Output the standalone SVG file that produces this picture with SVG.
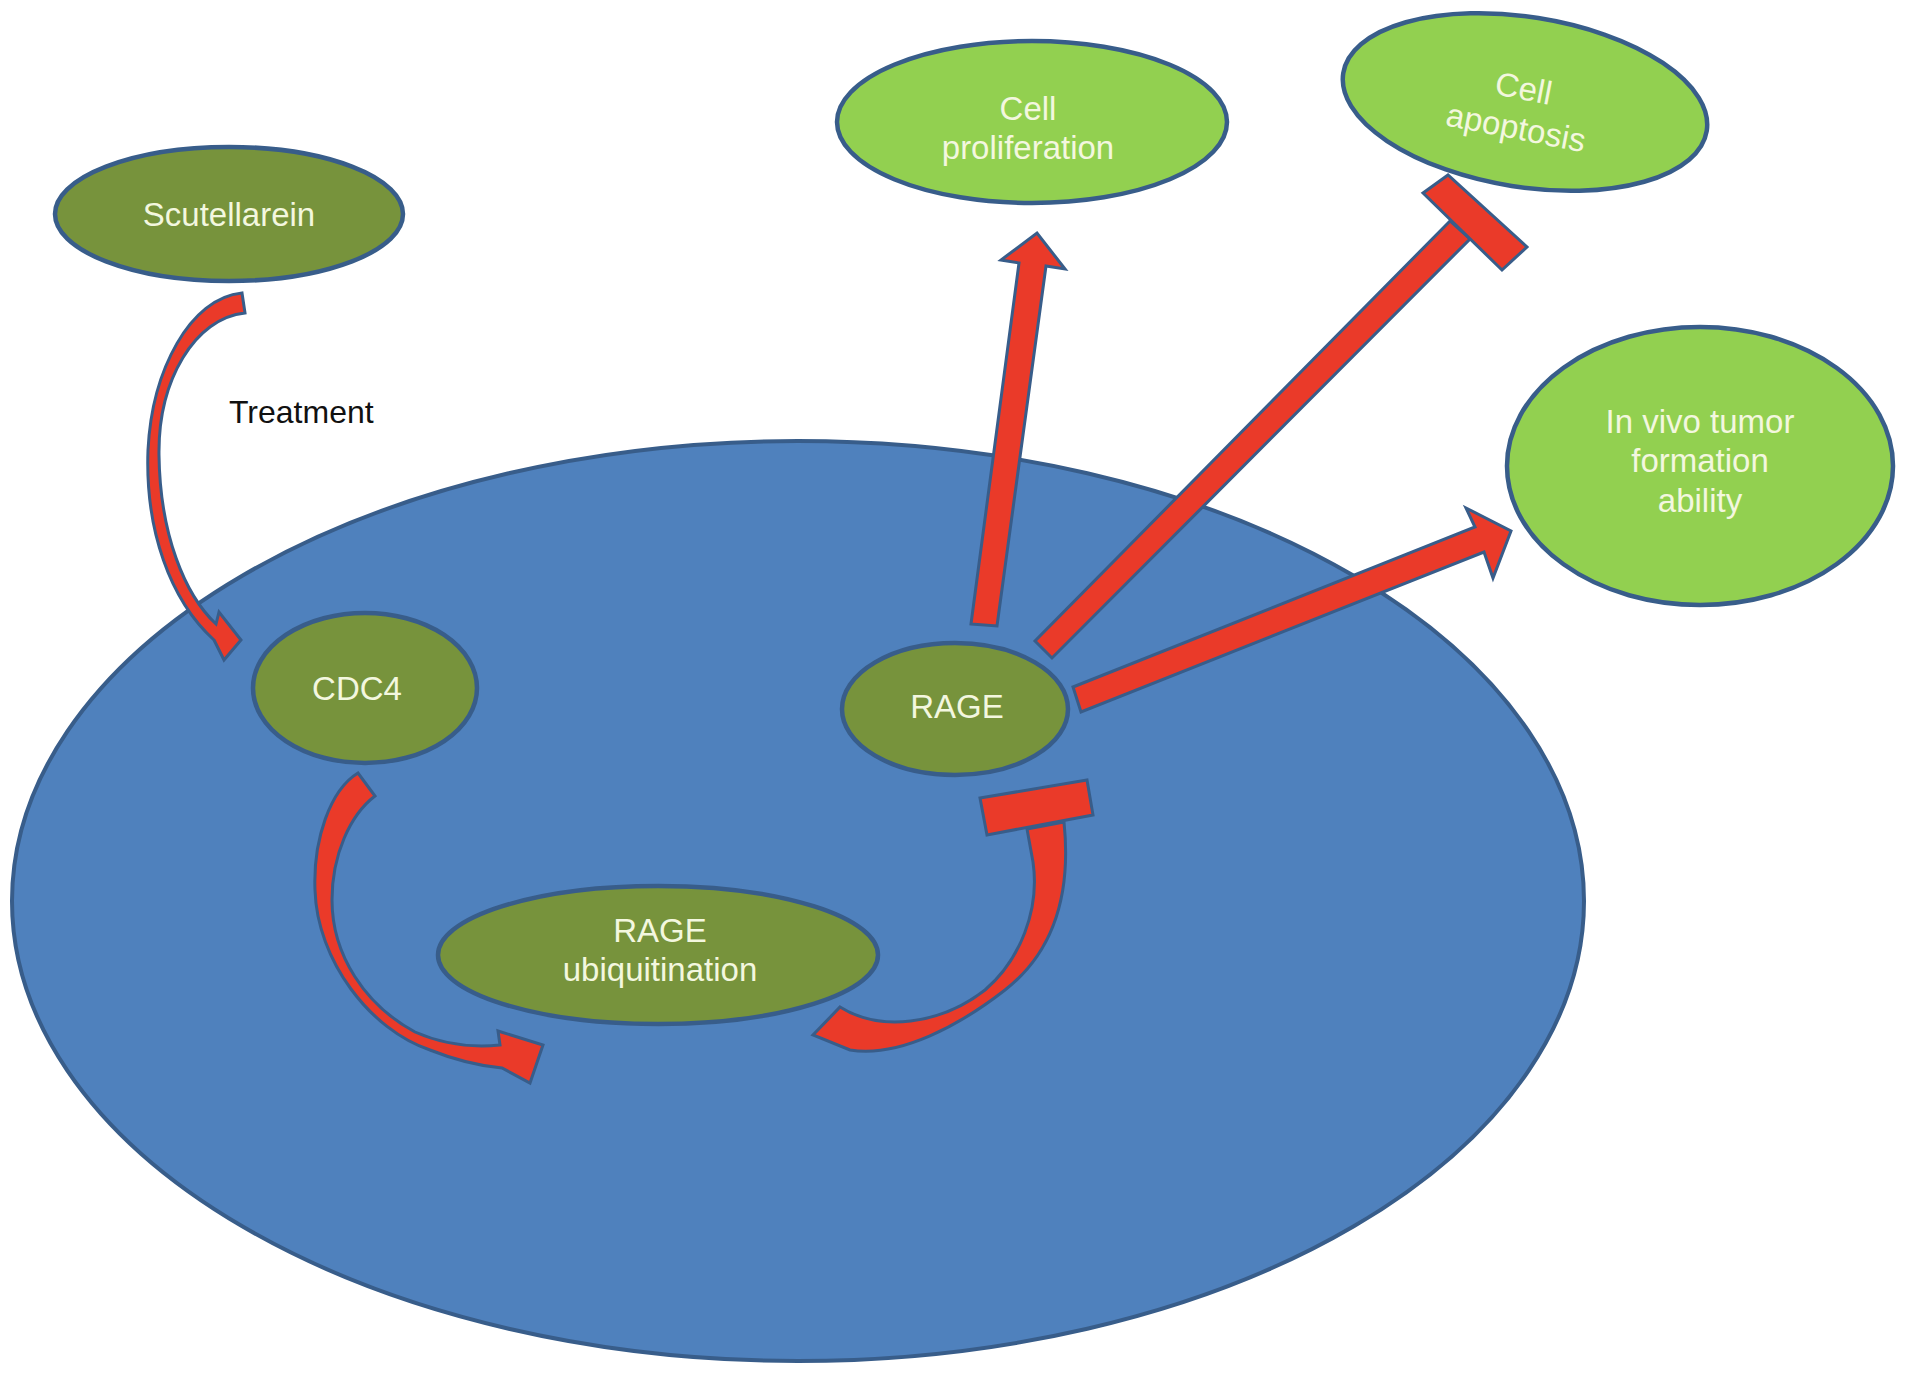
<svg xmlns="http://www.w3.org/2000/svg" width="1913" height="1377" viewBox="0 0 1913 1377">
<style>
  .cell { fill: #4F81BD; stroke: #385D8A; stroke-width: 4; }
  .dark { fill: #77933C; stroke: #385D8A; stroke-width: 4.5; }
  .light { fill: #92D050; stroke: #385D8A; stroke-width: 4.5; }
  .red { fill: #EA3A29; stroke: #385D8A; stroke-width: 3; stroke-linejoin: miter; }
  .lbl { font-family: "Liberation Sans", Arial, Helvetica, sans-serif; font-size: 33px; fill: #F3F7DF; text-anchor: middle; }
  .blk { font-family: "Liberation Sans", Arial, Helvetica, sans-serif; font-size: 32px; fill: #111111; }
</style>
<rect x="0" y="0" width="1913" height="1377" fill="#FFFFFF"/>

<g id="cell">
  <ellipse class="cell" cx="798" cy="901" rx="786" ry="460"/>
</g>

<g id="connectors">
  <!-- Scutellarein -> CDC4 (curved arrow) -->
  <path id="arrow-treatment" class="red" d="M 242 293 C 190 298 152 370 148 450 C 145 530 170 600 214 640 L 224 660 L 241 640 L 219 612 L 216 624 C 185 595 160 535 159 455 C 158 380 195 318 245 313 Z"/>
  <!-- CDC4 -> RAGE ubiquitination (curved arrow) -->
  <path id="arrow-cdc4-ubiq" class="red" d="M 358 773 C 330 790 313 840 315 890 C 317 960 370 1030 430 1050 C 455 1060 480 1066 502 1068 L 530 1083 L 543 1045 L 498 1031 L 500 1045 C 470 1048 440 1043 415 1032 C 365 1005 332 955 332 900 C 332 855 350 815 375 796 Z"/>
  <!-- RAGE ubiquitination -| RAGE (curved inhibition) -->
  <path id="inhib-ubiq-rage-stem" class="red" d="M 840 1007 C 880 1032 940 1025 985 990 C 1020 960 1040 910 1033 862 L 1027 829 L 1064 822 C 1072 900 1050 955 1005 990 C 960 1025 900 1058 850 1050 L 813 1035 Z"/>
  <polygon id="inhib-ubiq-rage-bar" class="red" points="980,798 1087,780 1093,815 987,835"/>
  <!-- RAGE -> Cell proliferation -->
  <polygon id="arrow-rage-prolif" class="red" points="971,624 997,626 1046,266 1065,269 1037,233 1001,260 1019,263"/>
  <!-- RAGE -| Cell apoptosis -->
  <polygon id="inhib-rage-apop-stem" class="red" points="1035,641 1052,658 1470,239 1450,221"/>
  <polygon id="inhib-rage-apop-bar" class="red" points="1423,193 1448,175 1527,247 1502,270"/>
  <!-- RAGE -> In vivo tumor formation ability -->
  <polygon id="arrow-rage-tumor" class="red" points="1073,687 1475,527 1466,508 1511,531 1493,578 1484,552 1081,712"/>
</g>

<g id="node-scutellarein">
  <ellipse class="dark" cx="229" cy="214" rx="174" ry="67"/>
  <text class="lbl" x="229" y="226">Scutellarein</text>
</g>

<g id="label-treatment">
  <text class="blk" x="229" y="423">Treatment</text>
</g>

<g id="node-cdc4">
  <ellipse class="dark" cx="365" cy="688" rx="112" ry="75"/>
  <text class="lbl" x="357" y="700">CDC4</text>
</g>

<g id="node-rage">
  <ellipse class="dark" cx="955" cy="709" rx="113" ry="66"/>
  <text class="lbl" x="957" y="718">RAGE</text>
</g>

<g id="node-rage-ubiquitination">
  <ellipse class="dark" cx="658" cy="955" rx="220" ry="69"/>
  <text class="lbl" x="660" y="942">RAGE</text>
  <text class="lbl" x="660" y="981">ubiquitination</text>
</g>

<g id="node-cell-proliferation">
  <ellipse class="light" cx="1032" cy="122" rx="195" ry="81"/>
  <text class="lbl" x="1028" y="120">Cell</text>
  <text class="lbl" x="1028" y="159">proliferation</text>
</g>

<g id="node-cell-apoptosis">
  <ellipse class="light" cx="0" cy="0" rx="184" ry="85" transform="translate(1525,102) rotate(9)"/>
  <g transform="translate(1524,102) rotate(11)">
    <text class="lbl" x="-3" y="-2">Cell</text>
    <text class="lbl" x="-3" y="38">apoptosis</text>
  </g>
</g>

<g id="node-in-vivo">
  <ellipse class="light" cx="1700" cy="466" rx="193" ry="139"/>
  <text class="lbl" x="1700" y="433">In vivo tumor</text>
  <text class="lbl" x="1700" y="472">formation</text>
  <text class="lbl" x="1700" y="512">ability</text>
</g>
</svg>
